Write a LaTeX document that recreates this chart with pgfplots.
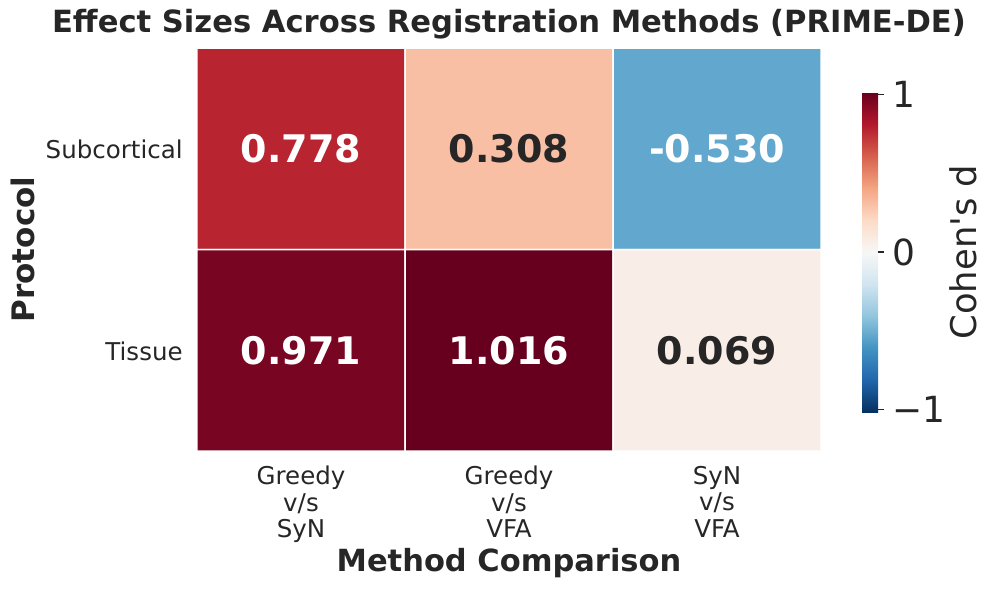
\documentclass[border=0pt]{standalone}
\usepackage{fontspec}
\setmainfont{DejaVu Sans}
\newfontfamily\plainfont{DejaVu Sans}
\usepackage{pgfplots}
\usepackage{pgfplotstable}
\pgfplotsset{compat=1.18}
\definecolor{txt}{HTML}{262626}
\pgfplotstableread{
x y C
0 0 0.778
1 0 0.308
2 0 -0.530
0 1 0.971
1 1 1.016
2 1 0.069
}\datatable
\begin{document}
\begin{tikzpicture}
\useasboundingbox (0,0) rectangle (498pt,295pt);
\begin{axis}[
  at={(98.5pt,69.5pt)}, anchor=south west,
  scale only axis, width=312pt, height=201.5pt,
  xmin=-0.5, xmax=2.5, ymin=-0.5, ymax=1.5, y dir=reverse,
  enlargelimits=false, clip=false,
  axis line style={draw=none}, major tick length=0pt,
  xtick={0,1,2}, ytick={0,1},
  xticklabels={{Greedy\\v/s\\SyN},{Greedy\\v/s\\VFA},{SyN\\v/s\\VFA}},
  yticklabels={Subcortical,Tissue},
  xticklabel style={align=center, font=\fontsize{12.25}{13.2}\selectfont, text=txt, inner sep=0pt, anchor=north, yshift=-7.4pt},
  yticklabel style={font=\fontsize{12.25}{13.4}\selectfont, text=txt, inner sep=0pt, anchor=east, xshift=-7pt, yshift=-0.5pt},
  title={Effect Sizes Across Registration Methods (PRIME-DE)},
  title style={at={(axis description cs:0.5,1)}, anchor=base, yshift=2pt, font=\bfseries\fontsize{15.3}{18}\selectfont, text=txt},
  xlabel={Method Comparison},
  xlabel style={at={(axis description cs:0.5,0)}, anchor=base, yshift=-60pt, font=\bfseries\fontsize{15.25}{18}\selectfont, text=txt},
  ylabel={Protocol},
  ylabel style={at={(axis description cs:-0.2612,0.5)}, anchor=base, font=\bfseries\fontsize{15.5}{18}\selectfont, text=txt},
  colormap={rdbu}{rgb255=(5,48,97) rgb255=(33,102,172) rgb255=(67,147,195) rgb255=(146,197,222) rgb255=(209,229,240) rgb255=(247,247,247) rgb255=(253,219,199) rgb255=(244,165,130) rgb255=(214,96,77) rgb255=(178,24,43) rgb255=(103,0,31)},
  point meta min=-1.016, point meta max=1.016,
  colorbar,
  colorbar style={
    at={(parent axis.south east)}, anchor=south west,
    xshift=12pt, yshift=19.5pt,
    scale only axis, width=8pt, height=160pt,
    axis line style={draw=none},
    ytick={-1,0,1}, yticklabels={−1,0,1},
    ytick pos=right, yticklabel pos=right,
    major tick length=3pt, tick align=outside,
    tick style={draw=txt, line width=0.6pt},
    yticklabel style={font=\fontsize{18}{20}\selectfont, text=txt, inner sep=0pt, anchor=west, xshift=4pt},
    ylabel={Cohen's d},
    ylabel style={at={(axis description cs:7.14,0.5)}, anchor=base, rotate=0, font=\plainfont\fontsize{17.7}{20}\selectfont, text=txt},
  },
]
\addplot[matrix plot*, shader=faceted, faceted color=white, draw=white, line width=0.75pt, mesh/cols=3, point meta=explicit] table[x=x, y=y, meta=C]{\datatable};
\addplot[draw=none, mark=none, nodes near coords, point meta=explicit symbolic,
  every node near coord/.style={anchor=center, font=\bfseries\fontsize{19}{22}\selectfont, text=white}]
  coordinates {(0,0)[0.778] (2,0)[-0.530] (0,1)[0.971] (1,1)[1.016]};
\addplot[draw=none, mark=none, nodes near coords, point meta=explicit symbolic,
  every node near coord/.style={anchor=center, font=\bfseries\fontsize{19}{22}\selectfont, text=txt}]
  coordinates {(1,0)[0.308] (2,1)[0.069]};
\end{axis}
\end{tikzpicture}
\end{document}
